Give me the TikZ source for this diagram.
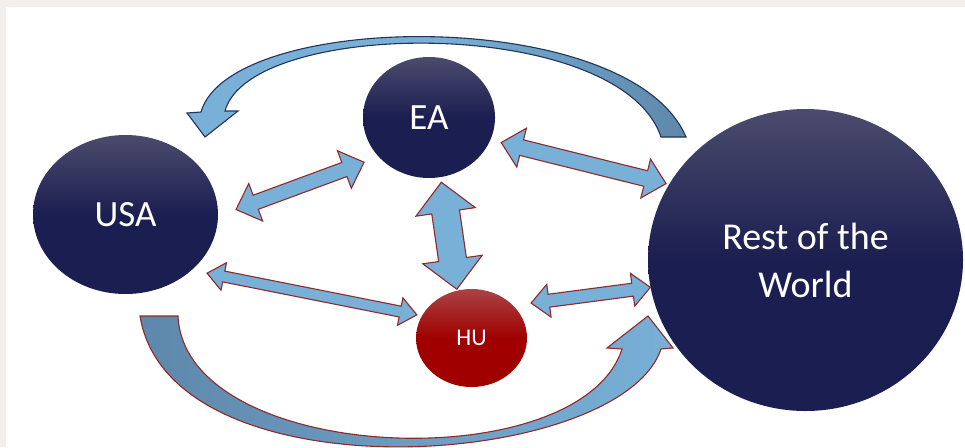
\documentclass[tikz,border=0pt]{standalone}
\usepackage{fontspec}
\setmainfont{Carlito}
\usetikzlibrary{shapes.geometric,calc}

\definecolor{navytop}{HTML}{4B4B6D}
\definecolor{navy}{HTML}{1B1E50}
\definecolor{redtop}{HTML}{AA4444}
\definecolor{hured}{HTML}{A00000}
\definecolor{flowblue}{HTML}{79B0D7}
\definecolor{flowsteel}{HTML}{5E88AB}
\definecolor{flowedge}{HTML}{8E2A2A}
\definecolor{arcedge}{HTML}{233459}
\definecolor{framegray}{HTML}{F2EFEC}

\tikzstyle{economy} = [ellipse, inner sep=0pt, text=white, align=center,
    top color=navytop, bottom color=navy, middle color=navy,
    font=\fontsize{37}{45}\selectfont]
\tikzstyle{small} = [economy, top color=redtop, bottom color=hured, middle color=hured,
    font=\fontsize{24}{28}\selectfont]
\tikzstyle{flow} = [draw=flowedge, line width=1.1pt, fill=flowblue, line join=miter]

% #1,#2 ends, #3,#4 gaps, #5 head half width, #6 body half width, #7 head length
\newcommand{\twoway}[7]{%
  \path ($(#1)!#3!(#2)$) coordinate (s) ($(#2)!#4!(#1)$) coordinate (e);
  \draw[flow] (s)
    -- ($($(s)!#7!(e)$)!#5!90:(e)$)
    -- ($($(s)!#7!(e)$)!#6!90:(e)$)
    -- ($($(e)!#7!(s)$)!#6!-90:(s)$)
    -- ($($(e)!#7!(s)$)!#5!-90:(s)$)
    -- (e)
    -- ($($(e)!#7!(s)$)!#5!90:(s)$)
    -- ($($(e)!#7!(s)$)!#6!90:(s)$)
    -- ($($(s)!#7!(e)$)!#6!-90:(e)$)
    -- ($($(s)!#7!(e)$)!#5!-90:(e)$)
    -- cycle;
}

\begin{document}
\begin{tikzpicture}[x=1pt, y=-1pt]
\useasboundingbox (0,0) rectangle (965,447);
\fill[framegray] (0,0) rectangle (965,7);
\fill[framegray] (0,0) rectangle (6,447);

\node[economy, minimum width=185, minimum height=159] (usa) at (125.5,214.5) {USA};
\node[economy, minimum width=132, minimum height=121] (ea) at (429,117.5) {EA};
\node[small, minimum width=111, minimum height=98] (hu) at (471.5,338) {HU};
\node[economy, minimum width=315, minimum height=302, font=\fontsize{38}{48}\selectfont]
    (row) at (805.5,260) {Rest of the\\World};

\draw[flow, draw=arcedge, left color=flowblue, right color=flowsteel, middle color=flowblue]
    (201,112) .. controls (230,10) and (630,5) .. (686,137) -- (661,137)
    .. controls (620,15) and (250,18) .. (225,111)
    -- (238,111) -- (205,137) -- (187,113) -- cycle;
\draw[flow, left color=flowsteel, right color=flowblue]
    (140,316) .. controls (170,500) and (620,470) .. (661,349)
    -- (673,348) -- (648,316) -- (607,348) -- (622,349)
    .. controls (580,480) and (185,465) .. (178,316) -- cycle;

\twoway{usa.-1}{ea.218}{19pt}{15.5pt}{20pt}{7.5pt}{21pt}
\twoway{usa.-40}{hu.156}{15.5pt}{5pt}{14pt}{5.5pt}{17pt}
\twoway{ea.-79}{hu.107}{5pt}{1.3pt}{30pt}{14pt}{30pt}
\twoway{ea.-20}{row.151}{11pt}{3pt}{20pt}{8pt}{21pt}
\twoway{hu.38}{row.190}{18pt}{0pt}{16.5pt}{6.5pt}{18pt}
\end{tikzpicture}
\end{document}
